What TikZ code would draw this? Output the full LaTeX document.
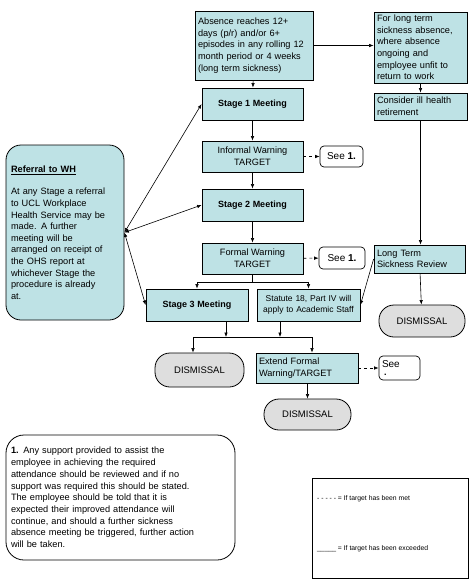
\documentclass[tikz,border=0pt]{standalone}
\usepackage{fontspec}
\setmainfont{Liberation Sans}
\usetikzlibrary{arrows.meta}
\definecolor{stagecyan}{RGB}{190,226,229}
\definecolor{endgray}{RGB}{222,222,222}

\begin{document}
\begin{tikzpicture}[x=1pt,y=-1pt,
  >={Latex[length=4.5pt,width=3.5pt]},
  font=\fontsize{9.2}{11.6}\selectfont,
  stagebox/.style={draw, line width=0.8pt, fill=stagecyan, inner sep=3pt},
  endbox/.style={draw, line width=0.8pt, fill=endgray, rounded corners=15pt, font=\fontsize{9.5}{11}\selectfont},
  seebox/.style={draw, line width=0.7pt, rounded corners=4pt, fill=white, font=\fontsize{10}{11}\selectfont},
  link/.style={line width=0.6pt}
]

\useasboundingbox (0,0) rectangle (474,587);

% Trigger and long term column
\node[stagebox, text width=112pt, minimum height=69pt, align=left] (absence) at (254,45.5)
  {Absence reaches 12+\\ days (p/r) and/or 6+\\ episodes in any rolling 12\\ month period or 4 weeks\\ (long term sickness)};
\node[stagebox, text width=87pt, minimum height=71pt, align=left] (longterm) at (420.5,47.5)
  {For long term\\ sickness absence,\\ where absence\\ ongoing and\\ employee unfit to\\ return to work};
\node[stagebox, text width=87pt, minimum height=27pt, align=left] (illhealth) at (420.5,106.5)
  {Consider ill health\\ retirement};
\node[stagebox, text width=85pt, minimum height=28pt, align=left] (ltreview) at (419.5,259)
  {Long Term\\ Sickness Review};
\node[endbox, minimum width=86pt, minimum height=32pt] (dismR) at (422,321) {DISMISSAL};

% Stages
\node[stagebox, minimum width=101pt, minimum height=32pt, font=\fontsize{9}{11}\bfseries] (stage1) at (252.5,104) {Stage 1 Meeting};
\node[stagebox, minimum width=101pt, minimum height=31pt, align=center] (informal) at (252.5,156.5) {Informal Warning\\ TARGET};
\node[stagebox, minimum width=101pt, minimum height=32pt, font=\fontsize{9}{11}\bfseries] (stage2) at (252.5,205) {Stage 2 Meeting};
\node[stagebox, minimum width=101pt, minimum height=31pt, align=center] (formal) at (252.5,258.5) {Formal Warning\\ TARGET};
\node[stagebox, minimum width=102pt, minimum height=32pt, font=\fontsize{9}{11}\bfseries] (stage3) at (197,305) {Stage 3 Meeting};
\node[stagebox, text width=97pt, minimum height=32pt, align=center, font=\fontsize{8.5}{11}\selectfont] (statute) at (308.5,305)
  {Statute 18, Part IV will\\ apply to Academic Staff};
\node[endbox, minimum width=89pt, minimum height=34pt] (dism1) at (199.5,370) {DISMISSAL};
\node[stagebox, text width=96pt, minimum height=30pt, align=left] (extend) at (307,368) {Extend Formal\\ Warning/TARGET};
\node[endbox, minimum width=87pt, minimum height=31pt] (dism2) at (307.5,414.5) {DISMISSAL};

% See notes
\node[seebox, minimum width=43pt, minimum height=21pt] (see1) at (341.5,156.5) {See \textbf{1.}};
\node[seebox, minimum width=46pt, minimum height=22pt] (see2) at (342,258) {See \textbf{1.}};
\node[seebox, text width=35pt, minimum height=24pt, inner sep=3pt, align=left] (see3) at (399.5,368) {See\\[-3pt]\hspace*{2pt}{\small\textbf{.}}};

% Referral
\node[draw, line width=0.8pt, fill=stagecyan, rounded corners=15pt, text width=108pt, minimum height=175pt, inner sep=5pt, align=left] (referral) at (65,232.5)
  {\textbf{\underline{Referral to WH}}\\[11pt]
   At any Stage a referral\\ to UCL Workplace\\ Health Service may be\\ made. A further\\ meeting will be\\ arranged on receipt of\\ the OHS report at\\ whichever Stage the\\ procedure is already\\ at.};

% Note and key
\node[draw, line width=0.8pt, rounded corners=18pt, text width=219pt, minimum height=125pt, inner sep=5pt, align=left, font=\fontsize{9.2}{11.7}\selectfont] (note) at (120.5,497.5)
  {\textbf{1.} Any support provided to assist the\\ employee in achieving the required\\ attendance should be reviewed and if no\\ support was required this should be stated.\\ The employee should be told that it is\\ expected their improved attendance will\\ continue, and should a further sickness\\ absence meeting be triggered, further action\\ will be taken.};
\node[draw, line width=0.7pt, minimum width=156pt, minimum height=100pt] (legend) at (390,528) {};
\node[anchor=west, inner sep=0pt, font=\fontsize{6.8}{8}\selectfont] (legmet) at (317,499) {- - - - - = If target has been met};
\node[anchor=west, inner sep=0pt, font=\fontsize{6.8}{8}\selectfont] (legover) at (317,549) {\_\_\_\_\_ = If target has been exceeded};

% Connectors
\draw[link,->] (absence) -- (stage1);
\draw[link,->] (absence.east) -- (absence.east -| longterm.west);
\draw[link,->] (longterm) -- (illhealth);
\draw[link,->] (illhealth.south) -- (illhealth.south |- ltreview.north);
\draw[link,->] (ltreview) -- (dismR);
\draw[link,->] (ltreview.west) -- (statute.east);
\draw[link,->] (stage1) -- (informal);
\draw[link,->] (informal) -- (stage2);
\draw[link,->] (stage2) -- (formal);
\draw[link,->] (formal.south) -- ++(0,8) -| (stage3.north);
\draw[link,->] (formal.south) -- ++(0,8) -| (statute.north);

\coordinate (mergeA) at (226,337);
\coordinate (mergeB) at (280,337);
\coordinate (joinL) at (193,337);
\coordinate (joinR) at (312,337);
\draw[link,->] (stage3.south -| mergeA) -- (mergeA);
\draw[link,->] (statute.south -| mergeB) -- (mergeB);
\draw[link] (joinL) -- (joinR);
\draw[link,->] (joinL) -- (joinL |- dism1.north);
\draw[link,->] (joinR) -- (joinR |- extend.north);
\draw[link,->] (extend.south -| dism2.north) -- (dism2.north);

\draw[link,dashed,->] (informal) -- (see1);
\draw[link,dashed,->] (formal) -- (see2);
\draw[link,dashed,->] (extend) -- (see3);

\draw[link,<->] (referral.east) -- (stage1.west);
\draw[link,<->] (referral.east) -- (stage2.west);
\draw[link,<->] (referral.east) -- (stage3.west);

\end{tikzpicture}
\end{document}
